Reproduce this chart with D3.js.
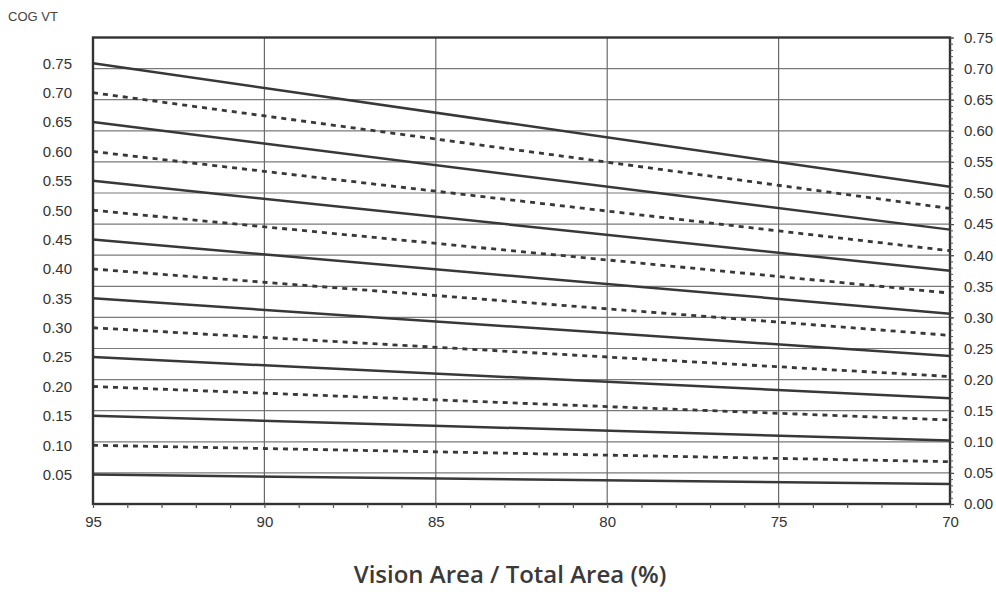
<!DOCTYPE html>
<html>
<head>
<meta charset="utf-8">
<script src="https://cdn.jsdelivr.net/npm/d3@7"></script>
<style>
  html, body { margin: 0; padding: 0; background: #fff; }
  svg { display: block; }
</style>
</head>
<body>
<svg id="chart" width="996" height="592"></svg>
<script>
// ---- data ----
const xRange = [95, 70];                       // Vision Area / Total Area (%)
const xTicks = [95, 90, 85, 80, 75, 70];
const leftTicks = [0.05, 0.10, 0.15, 0.20, 0.25, 0.30, 0.35, 0.40, 0.45, 0.50, 0.55, 0.60, 0.65, 0.70, 0.75];
const rightTicks = [0.00, 0.05, 0.10, 0.15, 0.20, 0.25, 0.30, 0.35, 0.40, 0.45, 0.50, 0.55, 0.60, 0.65, 0.70, 0.75];
// COG VT curves: value at 95% and at 70%
const startValues = [0.75, 0.70, 0.65, 0.60, 0.55, 0.50, 0.45, 0.40, 0.35, 0.30, 0.25, 0.20, 0.15, 0.10, 0.05];
const endValues   = [0.540, 0.503, 0.467, 0.431, 0.397, 0.359, 0.324, 0.287, 0.252, 0.217, 0.180, 0.143, 0.108, 0.072, 0.034];
const dashedFlags = [false, true, false, true, false, true, false, true, false, true, false, true, false, true, false];

// ---- layout ----
const svg = d3.select("#chart");
const L = 93, R = 950, T = 37.5, B = 504;
const FONT = "Liberation Sans, Arial, sans-serif";

const x = d3.scaleLinear().domain(xRange).range([L, R]);
const yLeft = d3.scaleLinear().domain([0, 0.794]).range([B, T]);
const yRight = d3.scaleLinear().domain([0, 0.75]).range([B, T]);

// grid
const grid = svg.append("g");
grid.selectAll("line.h").data(rightTicks.filter(v => v > 0 && v < 0.75)).enter()
  .append("line")
  .attr("x1", L).attr("x2", R)
  .attr("y1", d => yRight(d)).attr("y2", d => yRight(d))
  .attr("stroke", "#7a7a7a").attr("stroke-width", 1.2);
grid.selectAll("line.v").data(xTicks.filter(v => v !== 95 && v !== 70)).enter()
  .append("line")
  .attr("x1", d => x(d)).attr("x2", d => x(d))
  .attr("y1", T).attr("y2", B)
  .attr("stroke", "#6a6a6a").attr("stroke-width", 1.2);

// data lines
const series = startValues.map((s, i) => ({
  pts: [[xRange[0], s], [xRange[1], endValues[i]]],
  dashed: dashedFlags[i]
}));
const line = d3.line().x(d => x(d[0])).y(d => yLeft(d[1]));
svg.append("g").selectAll("path").data(series).enter()
  .append("path")
  .attr("d", d => line(d.pts))
  .attr("fill", "none")
  .attr("stroke", "#383838")
  .attr("stroke-width", d => d.dashed ? 2.8 : 2.5)
  .attr("stroke-dasharray", d => d.dashed ? "5,5" : null);

// frame
svg.append("rect")
  .attr("x", L).attr("y", T).attr("width", R - L).attr("height", B - T)
  .attr("fill", "none").attr("stroke", "#333").attr("stroke-width", 2.4);

function styleText(g) {
  g.selectAll(".tick text")
    .attr("font-family", FONT).attr("font-size", 15).attr("fill", "#333");
}

// left axis (labels only)
const gl = svg.append("g").attr("transform", `translate(${L},0)`)
  .call(d3.axisLeft(yLeft).tickValues(leftTicks).tickSize(0).tickPadding(21).tickFormat(d3.format(".2f")));
gl.select(".domain").remove();
styleText(gl);

// right axis
const gr = svg.append("g").attr("transform", `translate(${R},0)`)
  .call(d3.axisRight(yRight).tickValues(rightTicks).tickSize(4).tickPadding(10).tickFormat(d3.format(".2f")));
gr.select(".domain").remove();
gr.selectAll(".tick line").attr("stroke", "#444").attr("stroke-width", 1.2);
styleText(gr);
const grm = svg.append("g").attr("transform", `translate(${R},0)`)
  .call(d3.axisRight(yRight).ticks(75).tickSize(3).tickFormat(""));
grm.select(".domain").remove();
grm.selectAll(".tick line").attr("stroke", "#555").attr("stroke-width", 1);

// bottom axis
const gbm = svg.append("g").attr("transform", `translate(0,${B})`)
  .call(d3.axisBottom(x).ticks(25).tickSize(4).tickFormat(""));
gbm.select(".domain").remove();
gbm.selectAll(".tick line").attr("stroke", "#555").attr("stroke-width", 1.2);
const gb = svg.append("g").attr("transform", `translate(0,${B})`)
  .call(d3.axisBottom(x).tickValues(xTicks).tickSize(0).tickPadding(12).tickFormat(d3.format("d")));
gb.select(".domain").remove();
styleText(gb);

// titles
svg.append("text")
  .attr("x", 8).attr("y", 21)
  .attr("font-family", FONT)
  .attr("font-size", 13).attr("fill", "#444")
  .text("COG VT");

svg.append("text")
  .attr("x", 510).attr("y", 583)
  .attr("text-anchor", "middle")
  .attr("font-family", "Open Sans, Noto Sans, sans-serif")
  .attr("font-weight", 600)
  .attr("font-size", 24).attr("fill", "#3a3a3a")
  .text("Vision Area / Total Area (%)");
</script>
</body>
</html>
